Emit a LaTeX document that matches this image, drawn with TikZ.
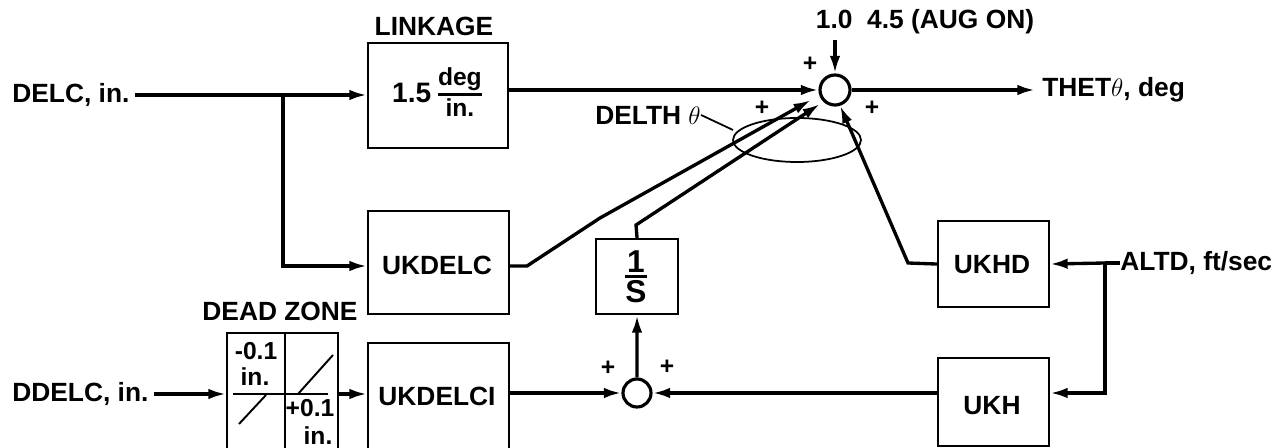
\documentclass[tikz,border=0pt]{standalone}
\usepackage{amsmath}
\usepackage{fontspec}
\setmainfont{Liberation Sans}
\usetikzlibrary{arrows.meta,calc}
\begin{document}
\begin{tikzpicture}[x=0.02cm,y=-0.02cm,
  font=\fontsize{15}{17}\selectfont\bfseries,
  blk/.style={draw,line width=1.2pt,inner sep=0pt,anchor=north west},
  sig/.style={line width=1.9pt,-{Latex[length=10pt,width=6pt]}},
  wire/.style={line width=1.9pt},
  thinl/.style={line width=1.1pt},
  sumj/.style={draw,circle,line width=1.8pt,inner sep=0pt,fill=white},
  lbl/.style={inner sep=0pt},
  pl/.style={font=\fontsize{14}{14}\selectfont\bfseries,inner sep=0pt},
  small/.style={font=\fontsize{14}{15}\selectfont\bfseries,inner sep=0pt}]
\clip (0,0) rectangle (1281,448);
\useasboundingbox (0,0) rectangle (1281,448);

% ellipse first
\draw[line width=1pt] (797,140) ellipse [x radius=64, y radius=22];

% boxes
\node[blk,minimum width=2.80cm,minimum height=2.10cm] (link) at (367,42) {};
\node[blk,minimum width=2.82cm,minimum height=2.06cm] (ukdelc) at (367,210) {};
\node[blk,minimum width=2.82cm,minimum height=2.60cm] (ukdelci) at (367,342) {};
\node[blk,minimum width=2.22cm,minimum height=2.80cm] (dz) at (226,332) {};
\node[blk,minimum width=1.64cm,minimum height=1.50cm] (ints) at (595,238) {};
\node[blk,minimum width=2.22cm,minimum height=1.72cm] (ukhd) at (937,220) {};
\node[blk,minimum width=2.22cm,minimum height=1.76cm] (ukh) at (937,357) {};

% box texts
\node[lbl] (linktxt) at (438,92) {\fontsize{16}{16}\selectfont 1.5\,$\genfrac{}{}{1.4pt}{}{\hbox{\fontsize{14}{14}\selectfont\bfseries deg}}{\hbox{\fontsize{14}{14}\selectfont\bfseries in.}}$};
\node[lbl] (ukdelctxt) at (437,265) {UKDELC};
\node[lbl] (ukdelcitxt) at (437,396) {UKDELCI};
\node[lbl] (intstxt) at (636,277) {$\genfrac{}{}{1.4pt}{}{\hbox{\fontsize{18}{18}\selectfont\bfseries 1}}{\hbox{\fontsize{18}{18}\selectfont\bfseries S}}$};
\node[lbl] (ukhdtxt) at (992,265) {UKHD};
\node[lbl] (ukhtxt) at (992,406) {UKH};

% dead zone internals
\draw[thinl] (285,332) -- (285,460);
\draw[thinl] (233,394) -- (328,394);
\draw[thinl] (239,424) -- (266,395);
\draw[thinl] (298,394) -- (333,355);
\node[small] (dzm) at (256,351) {-0.1};
\node[small] (dzmi) at (255,377) {in.};
\node[small] (dzp) at (310,408) {+0.1};
\node[small] (dzpi) at (318,436) {in.};

% labels
\node[lbl] (linklbl) at (434,26) {LINKAGE};
\node[lbl] (dzlbl) at (280,311) {DEAD ZONE};
\node[lbl] (aug) at (925,22) {1.0~~4.5 (AUG ON)};
\node[lbl] (delth) at (648,115) {DELTH $\theta$};
\draw[line width=1pt] (delth.east) -- (733,130);

% summing junctions
\node[sumj,minimum size=0.60cm] (sum1) at (835,90) {};
\node[sumj,minimum size=0.56cm] (sum2) at (637,393) {};

% plus signs
\node[pl] (p1) at (810,64) {+};
\node[pl] (p2) at (762,108) {+};
\node[pl] (p3) at (872,108) {+};
\node[pl] (p4) at (608,368) {+};
\node[pl] (p5) at (667,367) {+};

% inputs / outputs
\node[lbl,anchor=west] (delc) at (12,95) {DELC, in.};
\node[lbl,anchor=west] (ddelc) at (12,394) {DDELC, in.};
\node[lbl,anchor=west] (thet) at (1042,90) {THET$\theta$, deg};
\node[lbl,anchor=west] (altd) at (1120,263) {ALTD, ft/sec};

% coordinates
\coordinate (b1) at (283,95);
\coordinate (b1d) at (283,266);
\coordinate (k1) at (527,266);
\coordinate (k2) at (600,218);
\coordinate (i1) at (636,225);
\coordinate (t1) at (811,100);
\coordinate (t2) at (820,104);
\coordinate (h1) at (908,263);
\coordinate (augin) at (835,40);
\coordinate (a1) at (1105,263);
\coordinate (a2) at (1105,393);

% connectors
\draw[sig] ([xshift=3pt]delc.east) -- (delc.east -| link.west);
\draw[sig] (b1) -- (b1d) -- (b1d -| ukdelc.west);
\draw[sig] (link.east |- sum1) -- (sum1.west);
\draw[sig] (sum1.east) -- ([xshift=-4pt]thet.west);
\draw[sig] (augin) -- (sum1.north);
\draw[sig] (ukdelc.east |- k1) -- (k1) -- (k2) -- (t1);
\draw[sig] (ints.north) -- (i1) -- (t2);
\draw[sig] (ukhd.west) -- (h1) -- (sum1.-72);
\draw[wire] (altd.west) -- (a1);
\draw[sig] (a1) -- (ukhd.east);
\draw[sig] (a1) -- (a2) -- (a2 -| ukh.east);
\draw[sig] (ukh.west |- a2) -- (sum2.east);
\draw[sig] (ukdelci.east |- sum2) -- (sum2.west);
\draw[sig] (sum2.north) -- (ints.south);
\draw[sig] ([xshift=3pt]ddelc.east) -- (ddelc.east -| dz.west);
\draw[sig] (dz.east |- ddelc.east) -- (ddelc.east -| ukdelci.west);
\end{tikzpicture}
\end{document}
